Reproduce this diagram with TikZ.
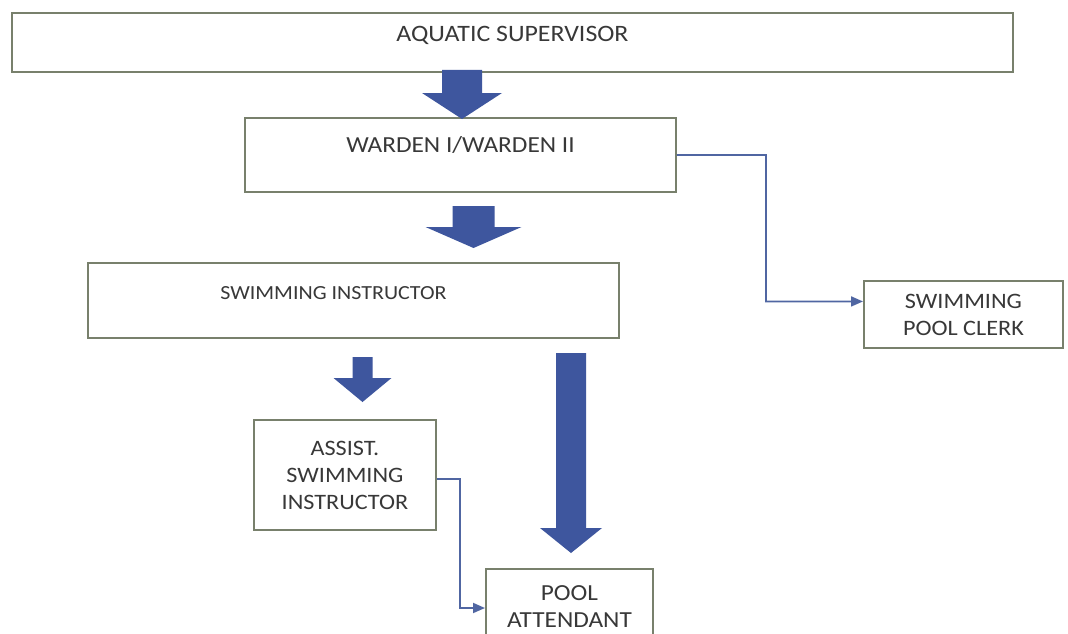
\documentclass[tikz,border=0pt]{standalone}
\usepackage{fontspec}
\setmainfont{Carlito}[FakeStretch=1.1]
\usetikzlibrary{arrows.meta}
\definecolor{boxline}{RGB}{120,128,108}
\definecolor{blockblue}{RGB}{62,86,158}
\definecolor{connblue}{RGB}{80,102,162}
\newcommand{\blockarrow}[6]{% cx, ytop, ybase, ytip, half shaft, half head
  \fill[blk] ({#1-#5},#2) -- ({#1+#5},#2) -- ({#1+#5},#3) -- ({#1+#6},#3)
    -- (#1,#4) -- ({#1-#6},#3) -- ({#1-#5},#3) -- cycle;}
\begin{document}
\begin{tikzpicture}[x=1pt,y=-1pt,
  box/.style={draw=boxline, line width=1.9pt, fill=white, inner sep=0pt, align=center, anchor=north west, text=black!78},
  smalltext/.style={font=\fontsize{22}{27}\selectfont},
  conn/.style={draw=connblue, line width=1.8pt, -{Triangle[length=12pt,width=10pt]}},
  blk/.style={fill=blockblue, draw=none}]
\useasboundingbox (0,0) rectangle (1068,634);
\clip (0,0) rectangle (1068,634);
\fill[white] (0,0) rectangle (1068,634);

\node[box, font=\fontsize{23.5}{28}\selectfont, minimum width=1001pt, minimum height=59pt, text height=15pt, text depth=17pt] (sup) at (11,12) {AQUATIC SUPERVISOR};
\node[box, font=\fontsize{23}{28}\selectfont, minimum width=431pt, minimum height=74pt, text height=15pt, text depth=19pt] (war) at (244,117) {WARDEN I/WARDEN II};
\node[box, font=\fontsize{20}{24}\selectfont, minimum width=531pt, minimum height=75pt, text height=13pt, text depth=14pt] (swi) at (87,262) {SWIMMING INSTRUCTOR\hspace*{40pt}};
\node[box, smalltext, minimum width=199pt, minimum height=67pt] (clk) at (863,280) {SWIMMING\\POOL CLERK};
\node[box, smalltext, minimum width=182pt, minimum height=110pt] (asi) at (253,419) {ASSIST.\\SWIMMING\\INSTRUCTOR};
\node[box, font=\fontsize{23}{27}\selectfont, minimum width=167pt, minimum height=75pt] (poo) at (485,568) {POOL\\ATTENDANT};

\blockarrow{462}{70}{93}{119}{20}{40}
\blockarrow{473.5}{206}{227}{248}{21}{48}
\blockarrow{362.5}{357}{378}{402}{10}{29}
\blockarrow{571}{353}{528}{553}{15}{31}

\draw[conn] (war.east) -- (766,155) |- ([yshift=13pt]clk.west);
\draw[conn] ([yshift=-4pt]asi.east) -| (460,608) -- (poo.west |- 0,608);
\end{tikzpicture}
\end{document}
